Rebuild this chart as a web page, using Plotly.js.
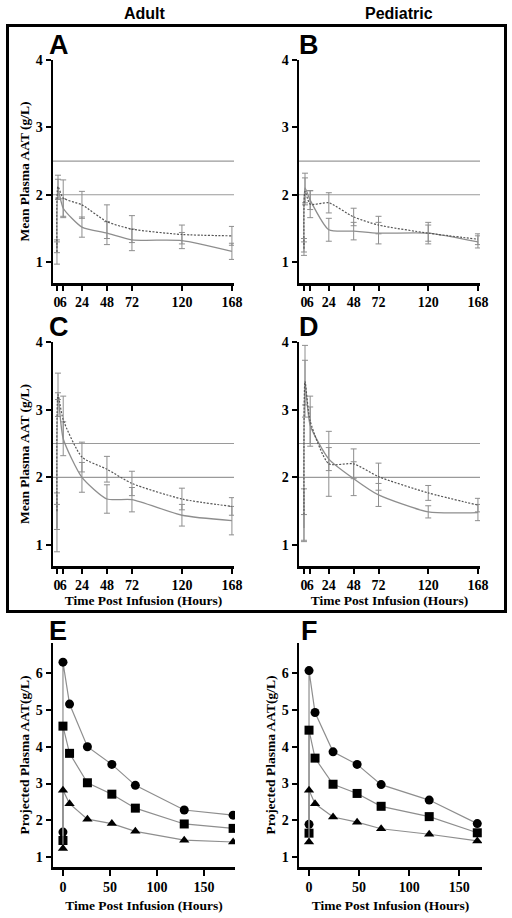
<!DOCTYPE html>
<html>
<head>
<meta charset="utf-8">
<script src="https://cdn.plot.ly/plotly-3.0.1.min.js"></script>
<style>html,body{margin:0;padding:0;background:#fff;}#chart{width:512px;height:918px;}</style>
</head>
<body>
<div id="chart"></div>
<script>
// ---- data ----
const timesAD = [0, 1, 6, 24, 48, 72, 120, 168];
const tickValsAD = [0, 6, 24, 48, 72, 120, 168];
const tickTextAD = ['0', '6', '24', '48', '72', '120', '168'];
const refLevels = [2.0, 2.5];

const adultSolid = [1.22, 2.08, 1.80, 1.52, 1.43, 1.33, 1.32, 1.16];
const adultSolidErr = [0.08, 0.15, 0.14, 0.15, 0.17, 0.16, 0.12, 0.12];
const adultDotted = [1.15, 2.12, 1.95, 1.85, 1.60, 1.49, 1.41, 1.39];
const adultDottedErr = [0.18, 0.17, 0.27, 0.20, 0.25, 0.20, 0.14, 0.14];

const pedSolid = [1.25, 2.10, 1.92, 1.48, 1.46, 1.43, 1.43, 1.30];
const pedSolidErr = [0.10, 0.22, 0.14, 0.17, 0.13, 0.16, 0.16, 0.09];
const pedDotted = [1.20, 2.05, 1.86, 1.88, 1.67, 1.55, 1.43, 1.34];
const pedDottedErr = [0.10, 0.20, 0.20, 0.15, 0.13, 0.13, 0.12, 0.08];

const adultSolidC = [1.25, 3.20, 2.57, 2.00, 1.68, 1.67, 1.44, 1.36];
const adultSolidErrC = [0.35, 0.05, 0.25, 0.22, 0.21, 0.18, 0.16, 0.21];
const adultDottedC = [1.50, 3.22, 2.85, 2.30, 2.12, 1.91, 1.68, 1.57];
const adultDottedErrC = [0.27, 0.32, 0.35, 0.22, 0.19, 0.18, 0.16, 0.13];

const pedSolidD = [1.25, 3.40, 2.77, 2.27, 1.98, 1.74, 1.49, 1.48];
const pedSolidErrD = [0.20, 0.33, 0.27, 0.17, 0.25, 0.17, 0.09, 0.12];
const pedDottedD = [1.45, 3.42, 2.83, 2.20, 2.20, 2.01, 1.77, 1.59];
const pedDottedErrD = [0.38, 0.53, 0.37, 0.48, 0.22, 0.20, 0.11, 0.10];

const timesE = [0, 0, 7, 26, 52, 77, 129, 181];
const circlesE = [1.68, 6.30, 5.16, 4.00, 3.52, 2.95, 2.28, 2.14];
const squaresE = [1.45, 4.56, 3.82, 3.02, 2.71, 2.33, 1.90, 1.78];
const trianglesE = [1.23, 2.82, 2.45, 2.03, 1.91, 1.70, 1.46, 1.41];

const timesF = [0, 0, 6, 24, 48, 72, 120, 168];
const circlesF = [1.89, 6.07, 4.93, 3.86, 3.52, 2.97, 2.55, 1.91];
const squaresF = [1.65, 4.45, 3.69, 2.98, 2.73, 2.38, 2.10, 1.66];
const trianglesF = [1.41, 2.82, 2.45, 2.09, 1.95, 1.77, 1.62, 1.44];

const yTitleTop = 'Mean Plasma AAT (g/L)';
const yTitleBottom = 'Projected Plasma AAT(g/L)';
const xTitle = 'Time Post Infusion (Hours)';

// ---- styling helpers ----
const W = 512, H = 918;
const px = v => v / W;
const py = v => 1 - v / H;
const serif = {family: 'Liberation Serif, Times New Roman, serif', size: 14, color: '#000', weight: 'bold'};
const sans = 'Liberation Sans, Arial, sans-serif';
const grey = '#8e8e8e';

function axisBase(domain, range, extra) {
  return Object.assign({
    domain: domain, range: range, showline: true, linecolor: '#000', linewidth: 2.5,
    ticks: 'outside', ticklen: 5, tickwidth: 2, tickcolor: '#000', tickangle: 0,
    showgrid: false, zeroline: false, tickfont: serif, fixedrange: true
  }, extra || {});
}

function meanTraces(xa, ya, x, ys, es, yd, ed) {
  return [
    {x: x, y: ys, xaxis: xa, yaxis: ya, type: 'scatter', mode: 'lines',
     line: {color: grey, width: 1.3, shape: 'spline', smoothing: 0.6},
     error_y: {type: 'data', array: es, visible: true, color: grey, thickness: 1, width: 3},
     showlegend: false, hoverinfo: 'skip'},
    {x: x, y: yd, xaxis: xa, yaxis: ya, type: 'scatter', mode: 'lines',
     line: {color: '#555', width: 1.2, dash: '2px,1.5px', shape: 'spline', smoothing: 0.6},
     error_y: {type: 'data', array: ed, visible: true, color: grey, thickness: 1, width: 3},
     showlegend: false, hoverinfo: 'skip'}
  ];
}

function projTraces(xa, ya, x, c, s, t) {
  const mk = (y, sym) => ({x: x, y: y, xaxis: xa, yaxis: ya, type: 'scatter', mode: 'lines+markers',
    line: {color: grey, width: 1.2}, marker: {symbol: sym, size: 9, color: '#000'},
    showlegend: false, hoverinfo: 'skip'});
  return [mk(c, 'circle'), mk(s, 'square'), mk(t, 'triangle-up')];
}

const traces = [].concat(
  meanTraces('x', 'y', timesAD, adultSolid, adultSolidErr, adultDotted, adultDottedErr),
  meanTraces('x2', 'y2', timesAD, pedSolid, pedSolidErr, pedDotted, pedDottedErr),
  meanTraces('x3', 'y3', timesAD, adultSolidC, adultSolidErrC, adultDottedC, adultDottedErrC),
  meanTraces('x4', 'y4', timesAD, pedSolidD, pedSolidErrD, pedDottedD, pedDottedErrD),
  projTraces('x5', 'y5', timesE, circlesE, squaresE, trianglesE),
  projTraces('x6', 'y6', timesF, circlesF, squaresF, trianglesF)
);

const xL = [px(53), px(234)], xR = [px(299), px(480)];
const yTop = [py(283), py(60)], yMid = [py(566), py(342)], yBot = [py(867), py(643)];
const rangeL = [-3.8, 170], rangeR = [-4.8, 170];
const yRangeAD = [0.69, 4];
const xtAD = {tickmode: 'array', tickvals: tickValsAD, ticktext: tickTextAD};
const ytAD = {tickmode: 'array', tickvals: [1, 2, 3, 4]};
const ytEF = {tickmode: 'array', tickvals: [1, 2, 3, 4, 5, 6]};
const xtEF = {tickmode: 'array', tickvals: [0, 50, 100, 150], ticklen: 6};
const titleFont = {family: serif.family, size: 13.5, color: '#000', weight: 'bold'};
const yTitle = t => ({text: t, font: titleFont, standoff: 3});
const xTitleObj = {text: xTitle, font: titleFont, standoff: 4};
const xTitleObjEF = {text: xTitle, font: titleFont, standoff: 7};

const layout = {
  width: W, height: H, margin: {l: 0, r: 0, t: 0, b: 0},
  paper_bgcolor: '#fff', plot_bgcolor: 'rgba(0,0,0,0)', showlegend: false,
  xaxis: axisBase(xL, rangeL, Object.assign({anchor: 'y'}, xtAD)),
  yaxis: axisBase(yTop, yRangeAD, Object.assign({anchor: 'x', title: yTitle(yTitleTop)}, ytAD)),
  xaxis2: axisBase(xR, rangeR, Object.assign({anchor: 'y2'}, xtAD)),
  yaxis2: axisBase(yTop, yRangeAD, Object.assign({anchor: 'x2'}, ytAD)),
  xaxis3: axisBase(xL, rangeL, Object.assign({anchor: 'y3', title: xTitleObj}, xtAD)),
  yaxis3: axisBase(yMid, yRangeAD, Object.assign({anchor: 'x3', title: yTitle(yTitleTop)}, ytAD)),
  xaxis4: axisBase(xR, rangeR, Object.assign({anchor: 'y4', title: xTitleObj}, xtAD)),
  yaxis4: axisBase(yMid, yRangeAD, Object.assign({anchor: 'x4'}, ytAD)),
  xaxis5: axisBase([px(53), px(235)], [-10.6, 183], Object.assign({anchor: 'y5', title: xTitleObjEF}, xtEF)),
  yaxis5: axisBase(yBot, [0.73, 6.82], Object.assign({anchor: 'x5', title: yTitle(yTitleBottom)}, ytEF)),
  xaxis6: axisBase([px(299), px(482)], [-10, 172.7], Object.assign({anchor: 'y6', title: xTitleObjEF}, xtEF)),
  yaxis6: axisBase(yBot, [0.73, 6.82], Object.assign({anchor: 'x6', title: yTitle(yTitleBottom)}, ytEF)),
  shapes: [],
  annotations: []
};

// reference levels in panels A-D
['', '2', '3', '4'].forEach(n => {
  refLevels.forEach(lv => {
    layout.shapes.push({type: 'line', xref: 'x' + n + ' domain', yref: 'y' + n, x0: 0, x1: 1, y0: lv, y1: lv,
      line: {color: '#9a9a9a', width: 1.2}, layer: 'below'});
  });
});
// outer frame around A-D
layout.shapes.push({type: 'rect', xref: 'paper', yref: 'paper', x0: px(7.5), x1: px(505.5), y0: py(611.5), y1: py(25.5),
  line: {color: '#000', width: 3}, fillcolor: 'rgba(0,0,0,0)'});

// column titles
const colFont = {family: sans, size: 16, color: '#000', weight: 'bold'};
layout.annotations.push({xref: 'paper', yref: 'paper', x: px(145), y: py(13), text: 'Adult', showarrow: false, font: colFont, xanchor: 'center', yanchor: 'middle'});
layout.annotations.push({xref: 'paper', yref: 'paper', x: px(399), y: py(13), text: 'Pediatric', showarrow: false, font: colFont, xanchor: 'center', yanchor: 'middle'});
// panel letters
const letFont = {family: sans, size: 27, color: '#000', weight: 'bold'};
[['A', 59, 45], ['B', 309, 45], ['C', 59, 327], ['D', 309, 327], ['E', 58, 631], ['F', 309, 631]].forEach(l => {
  layout.annotations.push({xref: 'paper', yref: 'paper', x: px(l[1]), y: py(l[2]), text: l[0], showarrow: false, font: letFont, xanchor: 'center', yanchor: 'middle'});
});

Plotly.newPlot('chart', traces, layout, {staticPlot: true, displayModeBar: false});
</script>
</body>
</html>
